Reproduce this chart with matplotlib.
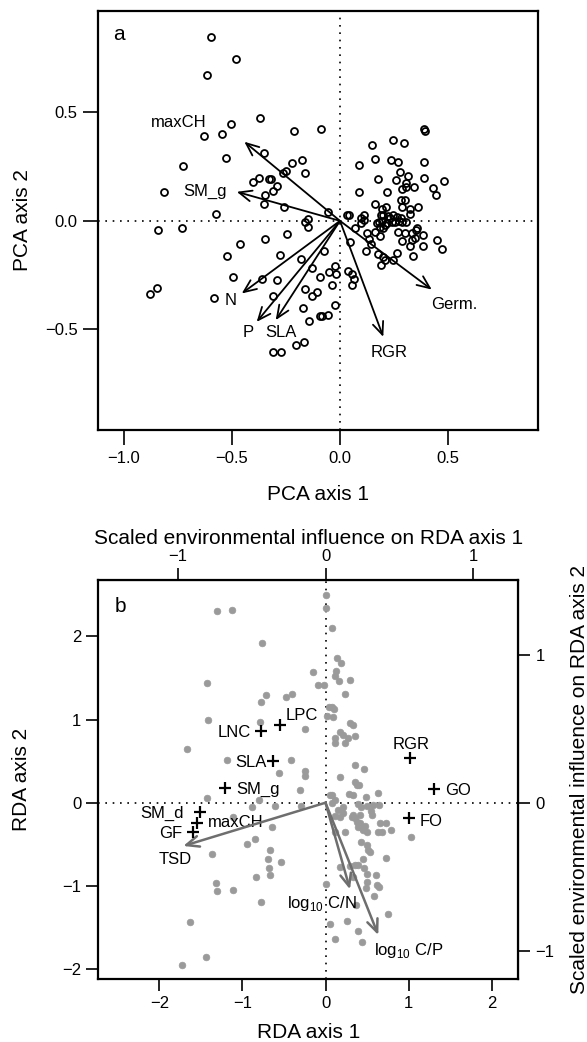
import matplotlib
matplotlib.use("Agg")
import matplotlib.pyplot as plt

plt.rcParams['font.family'] = ['Liberation Sans', 'DejaVu Sans']
plt.rcParams['mathtext.fontset'] = 'custom'
plt.rcParams['mathtext.rm'] = 'Liberation Sans'

# ---- panel a: PCA site scores ----
pca_x = [-0.594, -0.479, -0.613, -0.371, -0.505, -0.544, -0.627, -0.211, -0.086, -0.353,
         -0.526, -0.726, -0.222, -0.176, -0.163, -0.265, -0.251, -0.376, -0.329, -0.319,
         -0.402, -0.290, -0.310, -0.347, -0.351, -0.260, -0.815, -0.573, -0.054, -0.162,
         -0.146, -0.146, -0.843, -0.729,
         -0.345, -0.244, -0.461, -0.524, -0.277, -0.182, -0.075, -0.496, -0.362, -0.293,
         -0.128, -0.091, -0.051, -0.023, -0.018, -0.036, -0.160, -0.129, -0.105, -0.308,
         -0.581, -0.878, -0.846, -0.172, -0.023, -0.092, -0.082, -0.057, -0.145, -0.205,
         -0.168, -0.308, -0.274,
         0.387, 0.394, 0.246, 0.296, 0.146, 0.160, 0.234, 0.270, 0.088, 0.390,
         0.276, 0.316, 0.177, 0.257, 0.305, 0.305, 0.287, 0.342, 0.390, 0.431,
         0.442, 0.481, 0.089, 0.216, 0.280, 0.299, 0.323, 0.323, 0.362, 0.162,
         0.195, 0.211, 0.287, 0.034, 0.042, 0.097, 0.112,
         0.069, 0.096, 0.111, 0.123, 0.162, 0.185, 0.180, 0.195, 0.208, 0.223,
         0.239, 0.231, 0.200, 0.188, 0.262, 0.273, 0.285, 0.254, 0.305, 0.185,
         0.270, 0.300, 0.331, 0.357, 0.351, 0.382, 0.134, 0.046, 0.142, 0.120,
         0.177, 0.200, 0.208, 0.189, 0.246, 0.265, 0.285, 0.323, 0.331, 0.347,
         0.385, 0.339, 0.450, 0.473, 0.038, 0.054, 0.065, 0.057, 0.169, 0.200,
         0.219, 0.246, 0.280]
pca_y = [0.847, 0.746, 0.674, 0.475, 0.448, 0.403, 0.392, 0.415, 0.425, 0.311,
         0.288, 0.254, 0.269, 0.279, 0.223, 0.219, 0.231, 0.196, 0.192, 0.192,
         0.180, 0.163, 0.140, 0.120, 0.077, 0.066, 0.131, 0.030, 0.043, -0.003,
         0.009, -0.028, -0.041, -0.032,
         -0.083, -0.060, -0.109, -0.163, -0.157, -0.178, -0.138, -0.260, -0.266, -0.274,
         -0.217, -0.260, -0.234, -0.210, -0.246, -0.298, -0.314, -0.346, -0.329, -0.348,
         -0.354, -0.338, -0.312, -0.400, -0.390, -0.440, -0.440, -0.432, -0.461, -0.575,
         -0.557, -0.606, -0.605,
         0.426, 0.414, 0.372, 0.360, 0.348, 0.285, 0.279, 0.272, 0.256, 0.272,
         0.226, 0.206, 0.191, 0.188, 0.174, 0.154, 0.145, 0.157, 0.197, 0.151,
         0.120, 0.183, 0.131, 0.134, 0.096, 0.096, 0.053, 0.031, 0.066, 0.077,
         0.053, 0.062, 0.065, 0.026, 0.026, 0.012, 0.025,
         -0.035, -0.012, 0.006, -0.054, -0.051, -0.028, -0.007, -0.001, -0.020, 0.022,
         -0.007, 0.011, 0.026, 0.026, 0.018, -0.001, -0.007, -0.007, -0.007, -0.069,
         -0.051, -0.054, -0.054, -0.032, -0.043, -0.066, -0.084, -0.097, -0.109, -0.140,
         -0.155, -0.166, -0.181, -0.204, -0.181, -0.150, -0.094, -0.115, -0.089, -0.078,
         -0.117, -0.162, -0.089, -0.131, -0.232, -0.243, -0.269, -0.297, -0.008, -0.035,
         -0.012, 0.026, 0.011]

# trait loadings (arrow tips)
pca_traits = ['maxCH', 'SM_g', 'N', 'P', 'SLA', 'Germ.', 'RGR']
pca_load_x = [-0.442, -0.477, -0.454, -0.385, -0.297, 0.424, 0.200]
pca_load_y = [0.365, 0.134, -0.335, -0.466, -0.458, -0.317, -0.535]
pca_label_off = [(-47, 14), (-23, 0), (-8, -5), (-6, -8), (4, -9), (16, -11), (4, -11)]

# ---- panel b: RDA site scores ----
rda_x = [-1.304, -1.130, -0.769, 0.002, 0.002, 0.075, -1.424, -0.147, -0.087, -0.014,
         -0.720, -0.773, -0.476, -0.407, -1.412, -0.789, -0.247, -1.672, -1.183, -0.419,
         -0.564, -0.243, -0.243,
         0.142, 0.183, 0.127, 0.114, 0.166, 0.295, 0.235, 0.046, 0.075, 0.106,
         0.014, 0.094, 0.295, 0.328, 0.175, 0.207, 0.275, 0.355, 0.114, 0.114,
         0.235, 0.355, 0.464, 0.175, 0.355, 0.376, 0.407,
         0.629, 0.082, 0.287, 0.335, 0.488, 0.075, 0.214, 0.154, 0.395, 0.424,
         0.496, 0.569, 0.641, 0.545, 0.560, 0.114, 0.175, 0.214, 0.316, 0.355,
         0.376, 0.416, 0.395, 0.436, 0.455, 0.335, 0.476, 0.496, 0.416, 0.657,
         0.729, 0.684, 0.786, 0.629, 1.030, 0.235, 0.114, 0.428, 0.496, 0.516,
         0.536, 0.729, 0.455, 0.175, 0.295, 0.355, 0.395, 0.464, 0.496, 0.608,
         0.335, 0.496, 0.488, 0.624, 0.645, 0.584, 0.367, 0.002, 0.757, 0.054,
         0.255, 0.395, 0.114, 0.443,
         -1.424, -0.801, -0.882, -0.605, -0.307, -0.299, -1.118, -0.648, -0.949, -0.853,
         -0.669, -0.536, -0.696, -0.681, -0.669, -0.841, -1.371, -1.319, -1.307, -1.114,
         -0.777, -1.633, -1.443, -1.733, 0.054, 0.114]
rda_y = [2.308, 2.316, 1.923, 2.496, 2.344, 2.096, 1.442, 1.567, 1.411, 1.411,
         1.294, 1.214, 1.274, 1.306, 0.994, 0.974, 0.886, 0.642, 0.510, 0.513,
         0.361, 0.381, 0.321,
         1.736, 1.675, 1.587, 1.523, 1.463, 1.475, 1.307, 1.154, 1.147, 1.130,
         1.042, 1.034, 0.962, 0.934, 0.853, 0.814, 0.774, 0.802, 0.721, 0.774,
         0.714, 0.453, 0.401, 0.305, 0.252, 0.213, 0.213,
         0.113, 0.093, 0.105, 0.093, 0.065, -0.007, -0.048, -0.088, -0.016, -0.055,
         -0.040, -0.028, -0.028, -0.096, -0.148, -0.160, -0.168, -0.127, -0.168, -0.188,
         -0.228, -0.248, -0.288, -0.308, -0.328, -0.148, -0.280, -0.349, -0.148, -0.248,
         -0.240, -0.349, -0.328, -0.349, -0.409, -0.349, -0.349, -0.476, -0.508, -0.569,
         -0.589, -0.661, -0.680, -0.769, -0.761, -0.749, -0.749, -0.781, -0.857, -0.869,
         -0.897, -0.957, -1.029, -0.989, -1.010, -1.121, -1.230, -0.981, -1.338, -1.458,
         -1.418, -1.546, -1.638, -1.671,
         0.060, 0.032, -0.048, -0.036, 0.153, -0.040, -0.168, -0.288, -0.500, -0.440,
         -0.569, -0.709, -0.680, -0.781, -0.869, -0.897, -0.617, -0.969, -1.058, -1.049,
         -1.197, -1.430, -1.851, -1.951, 0.093, 0.032]

# trait scores shown as crosses
rda_traits = ['LNC', 'LPC', 'SLA', 'SM_g', 'SM_d', 'maxCH', 'GF', 'RGR', 'GO', 'FO']
rda_trait_x = [-0.781, -0.548, -0.636, -1.214, -1.512, -1.552, -1.593, 1.018, 1.311, 1.006]
rda_trait_y = [0.865, 0.934, 0.501, 0.173, -0.115, -0.240, -0.356, 0.533, 0.161, -0.188]
rda_trait_off = [(-19, -1), (16, 7), (-16, -1), (24, -1), (-27, -1), (28, 0), (-16, -1),
                 (1, 10), (17, -1), (16, -2)]

# environmental arrows
env_names = ['TSD', r'log$_{\mathregular{10}}$ C/N', r'log$_{\mathregular{10}}$ C/P']
env_x = [-1.713, 0.295, 0.636]
env_y = [-0.520, -1.041, -1.590]
env_off = [(-6, -10), (-20, -10), (22, -11)]
env_scale = 1.777

fig = plt.figure(figsize=(5.87, 10.42), dpi=100)
dots = (0, (1, 3.4))

# ---------------- panel a ----------------
ax = fig.add_axes([0.1678, 0.5873, 0.7487, 0.4021])
ax.axhline(0, color='black', ls=dots, lw=1.2, zorder=1)
ax.axvline(0, color='black', ls=dots, lw=1.2, zorder=1)
ax.plot(pca_x, pca_y, 'o', ms=5, mfc='none', mec='black', mew=1.3, zorder=2)
for name, x, y, off in zip(pca_traits, pca_load_x, pca_load_y, pca_label_off):
    ax.annotate('', xy=(x, y), xytext=(0, 0),
                arrowprops=dict(arrowstyle='->,head_length=0.7,head_width=0.3',
                                color='black', lw=1.3, shrinkA=0, shrinkB=0,
                                mutation_scale=13), zorder=3)
    ax.annotate(name, xy=(x, y), xytext=off, textcoords='offset points',
                ha='center', va='center', fontsize=12)
ax.set_xlim(-1.116, 0.915)
ax.set_ylim(-0.965, 0.968)
ax.set_xticks([-1.0, -0.5, 0.0, 0.5])
ax.set_xticklabels(['\u22121.0', '\u22120.5', '0.0', '0.5'])
ax.set_yticks([-0.5, 0.0, 0.5])
ax.set_yticklabels(['\u22120.5', '0.0', '0.5'])
ax.tick_params(direction='out', length=11, width=1.2, labelsize=12, pad=4)
for s in ax.spines.values():
    s.set_linewidth(1.6)
ax.set_xlabel('PCA axis 1', fontsize=15, va='center')
ax.xaxis.set_label_coords(0.5, -0.155)
ax.set_ylabel('PCA axis 2', fontsize=15, va='center')
ax.yaxis.set_label_coords(-0.174, 0.5)
ax.text(0.047, 0.944, 'a', transform=ax.transAxes, fontsize=15, ha='center', va='center')

# ---------------- panel b ----------------
ax2 = fig.add_axes([0.1675, 0.0602, 0.7155, 0.3832])
ax2.axhline(0, color='black', ls=dots, lw=1.2, zorder=1)
ax2.axvline(0, color='black', ls=dots, lw=1.2, zorder=1)
ax2.plot(rda_x, rda_y, 'o', ms=4.8, mfc='#9a9a9a', mec='#9a9a9a', mew=0.5, zorder=2)
ax2.plot(rda_trait_x, rda_trait_y, '+', ms=8, mew=1.6, color='black', zorder=4)
for name, x, y, off in zip(rda_traits, rda_trait_x, rda_trait_y, rda_trait_off):
    ax2.annotate(name, xy=(x, y), xytext=off, textcoords='offset points',
                 ha='center', va='center', fontsize=12)
for name, x, y, off in zip(env_names, env_x, env_y, env_off):
    ax2.annotate('', xy=(x, y), xytext=(0, 0),
                 arrowprops=dict(arrowstyle='->,head_length=0.7,head_width=0.3',
                                 color='#6e6e6e', lw=1.8, shrinkA=0, shrinkB=0,
                                 mutation_scale=13), zorder=3)
    ax2.annotate(name, xy=(x, y), xytext=off, textcoords='offset points',
                 ha='center', va='center', fontsize=12)
ax2.set_xlim(-2.737, 2.323)
ax2.set_ylim(-2.122, 2.677)
ax2.set_xticks([-2, -1, 0, 1, 2])
ax2.set_yticks([-2, -1, 0, 1, 2])
ax2.tick_params(direction='out', length=8.3, width=1.2, labelsize=12, pad=4)
for s in ax2.spines.values():
    s.set_linewidth(1.6)
ax2.set_xlabel('RDA axis 1', fontsize=15, va='center')
ax2.xaxis.set_label_coords(0.5, -0.1345)
ax2.set_ylabel('RDA axis 2', fontsize=15, va='center')
ax2.yaxis.set_label_coords(-0.182, 0.5)
ax2.text(0.052, 0.933, 'b', transform=ax2.transAxes, fontsize=15, ha='center', va='center')

# secondary axes for the scaled environmental influence
top = ax2.secondary_xaxis('top', functions=(lambda v: v / env_scale, lambda v: v * env_scale))
top.set_xticks([-1, 0, 1])
top.tick_params(direction='out', length=8.3, width=1.2, labelsize=12, pad=3)
ax2.text(0.5, 1.105, 'Scaled environmental influence on RDA axis 1', transform=ax2.transAxes,
         fontsize=15, ha='center', va='center')

right = ax2.secondary_yaxis('right', functions=(lambda v: v / env_scale, lambda v: v * env_scale))
right.set_yticks([-1, 0, 1])
right.tick_params(direction='out', length=8.3, width=1.2, labelsize=12, pad=4)
ax2.text(1.1445, 0.5, 'Scaled environmental influence on RDA axis 2', transform=ax2.transAxes,
         fontsize=15, rotation=90, ha='center', va='center')

fig.savefig('out.png', dpi=100)
